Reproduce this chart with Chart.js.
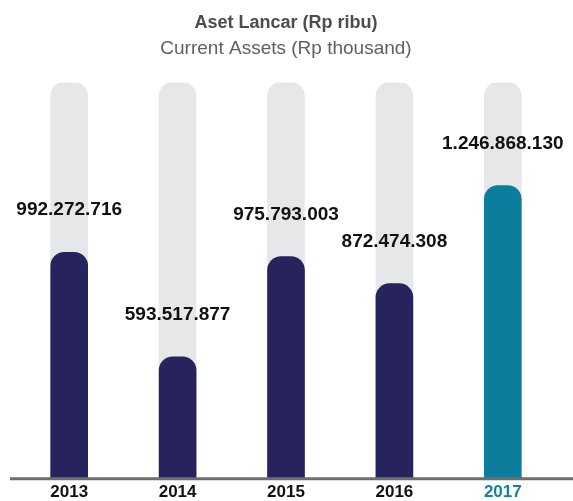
<!DOCTYPE html>
<html>
<head>
<meta charset="utf-8">
<script src="https://cdn.jsdelivr.net/npm/chart.js@4.4.1/dist/chart.umd.min.js"></script>
<style>
	html, body { margin: 0; padding: 0; background: #fff; }
	#wrap { width: 573px; height: 501px; }
</style>
</head>
<body>
<div id="wrap"><canvas id="myChart" width="573" height="501"></canvas></div>
<script>
// data
var years = ["2013", "2014", "2015", "2016", "2017"];
var assets = [992272716, 593517877, 975793003, 872474308, 1246868130];
var valueLabels = ["992.272.716", "593.517.877", "975.793.003", "872.474.308", "1.246.868.130"];

var axisMin = 130000000;
var axisMax = 1640000000;
var track = years.map(() => axisMax);

var navy = "#27235c";
var teal = "#0d7d9e";
var barColors = years.map((y, i) => (i === years.length - 1 ? teal : navy));
var tickColors = years.map((y, i) => (i === years.length - 1 ? "#1580a0" : "#111111"));

// draws the value text above each bar and the long baseline
var labelsPlugin = {
	id: "valueLabels",
	afterDatasetsDraw(chart) {
		const ctx = chart.ctx;
		const meta = chart.getDatasetMeta(0);
		ctx.save();
		ctx.font = "bold 19px 'Liberation Sans', Arial, sans-serif";
		ctx.fillStyle = "#111111";
		ctx.textAlign = "center";
		ctx.textBaseline = "middle";
		meta.data.forEach((bar, i) => {
			ctx.fillText(valueLabels[i], bar.x, bar.y - 42);
		});
		ctx.restore();
	},
	afterDraw(chart) {
		const ctx = chart.ctx;
		const y = chart.chartArea.bottom;
		ctx.save();
		ctx.strokeStyle = "#6d6e71";
		ctx.lineWidth = 3;
		ctx.beginPath();
		ctx.moveTo(10, y + 0.5);
		ctx.lineTo(chart.width, y + 0.5);
		ctx.stroke();
		ctx.restore();
	},
};

var ctx = document.getElementById("myChart").getContext("2d");
var chart = new Chart(ctx, {
	type: "bar",
	data: {
		labels: years,
		datasets: [
			{
				label: "Aset Lancar",
				data: assets,
				backgroundColor: barColors,
				borderRadius: { topLeft: 14, topRight: 14, bottomLeft: 0, bottomRight: 0 },
				borderSkipped: "bottom",
				barThickness: 37,
				grouped: false,
				order: 0,
			},
			{
				label: "track",
				data: track,
				backgroundColor: "#e6e7e8",
				borderRadius: { topLeft: 14, topRight: 14, bottomLeft: 0, bottomRight: 0 },
				borderSkipped: "bottom",
				barThickness: 37,
				grouped: false,
				order: 1,
			},
		],
	},
	options: {
		responsive: false,
		animation: false,
		layout: { padding: { left: 15, right: 16, top: 0, bottom: -6 } },
		plugins: {
			legend: { display: false },
			tooltip: { enabled: false },
			title: {
				display: true,
				text: "Aset Lancar (Rp ribu)",
				color: "#4d4d4d",
				font: { family: "'Liberation Sans', Arial, sans-serif", size: 18, weight: "bold", lineHeight: 1.2 },
				padding: { top: 12, bottom: 4 },
			},
			subtitle: {
				display: true,
				text: "Current Assets (Rp thousand)",
				color: "#5f6062",
				font: { family: "'Liberation Sans', Arial, sans-serif", size: 19, weight: "normal", lineHeight: 1.2 },
				padding: { top: 0, bottom: 22 },
			},
		},
		scales: {
			x: {
				grid: { display: false, drawTicks: false },
				border: { display: false },
				ticks: {
					color: tickColors,
					padding: 5,
					font: { family: "'Liberation Sans', Arial, sans-serif", size: 17, weight: "bold", lineHeight: 1.1 },
				},
			},
			y: {
				display: false,
				min: axisMin,
				max: axisMax,
			},
		},
	},
	plugins: [labelsPlugin],
});
</script>
</body>
</html>
